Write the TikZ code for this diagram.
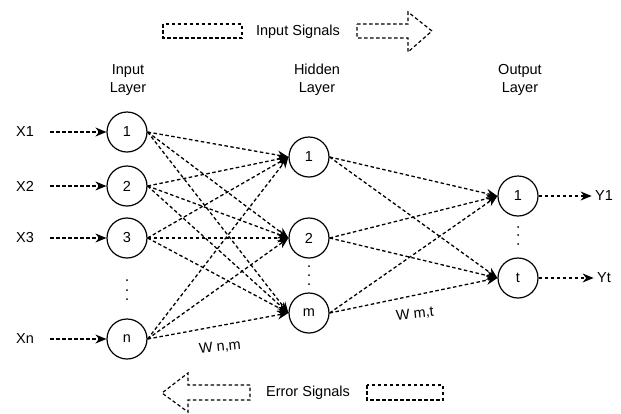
\documentclass[tikz,border=0pt]{standalone}
\usepackage{fontspec}
\setmainfont{Liberation Sans}
\usetikzlibrary{arrows.meta}
\begin{document}
\begin{tikzpicture}[x=1pt,y=-1pt,
  every node/.style={font=\fontsize{14.5}{18}\selectfont},
  neuron/.style={circle,draw,line width=1.2pt,minimum size=40pt,inner sep=0pt},
  conn/.style={dashed,line width=1.3pt,dash pattern=on 3.5pt off 2.5pt,-{Stealth[length=11pt,width=9pt]}},
  bigarrow/.style={dashed,line width=1.2pt,dash pattern=on 3.5pt off 2.5pt},
  dotmark/.style={fill=black},
  lbl/.style={align=center,inner sep=0pt}]
\useasboundingbox (0,0) rectangle (621,413);
% signals
\draw[bigarrow] (163,24) rectangle (242,38);
\node[inner sep=0pt] (insig) at (298,32) {Input Signals};
\draw[bigarrow] (357,24) -- (408,24) -- (408,12) -- (432,31) -- (408,52) -- (408,38) -- (357,38) -- cycle;
\draw[bigarrow] (250,385) -- (188,385) -- (188,373) -- (162,393) -- (188,412) -- (188,400) -- (250,400) -- cycle;
\node[inner sep=0pt] (errsig) at (308,393) {Error Signals};
\draw[bigarrow] (367,385) rectangle (443,400);
% layer labels
\node[lbl] (linput) at (128,80) {Input\\Layer};
\node[lbl] (lhidden) at (317,80) {Hidden\\Layer};
\node[lbl] (loutput) at (520,80) {Output\\Layer};
% neurons
\node[neuron] (i1) at (127,132) {1};
\node[neuron] (i2) at (127,186) {2};
\node[neuron] (i3) at (127,238) {3};
\node[neuron] (in) at (127,339) {n};
\node[neuron] (h1) at (309,157) {1};
\node[neuron] (h2) at (309,238) {2};
\node[neuron] (hm) at (309,313) {m};
\node[neuron] (o1) at (518,196) {1};
\node[neuron] (ot) at (518,278) {t};
% vertical dots
\foreach \y in {280,290,299} \fill[dotmark] (127,\y) circle (1pt);
\foreach \y in {266,275,284} \fill[dotmark] (309,\y) circle (1pt);
\foreach \y in {227,235,244} \fill[dotmark] (518,\y) circle (1pt);
% inputs/outputs
\node (x1) at (25,132) {X1};
\node (x2) at (25,186) {X2};
\node (x3) at (25,238) {X3};
\node (xn) at (25,339) {Xn};
\node (y1) at (604,196) {Y1};
\node (yt) at (604,278) {Yt};
\foreach \a/\b in {x1/i1,x2/i2,x3/i3,xn/in} \draw[conn] ([xshift=13pt]\a.east) -- (\b.west);
\draw[conn] (o1.east) -- (y1.west);
\draw[conn] (ot.east) -- (yt.west);
\foreach \a in {i1,i2,i3,in}
  \foreach \b in {h1,h2,hm}
    \draw[conn] (\a.east) -- (\b.west);
\foreach \a in {h1,h2,hm}
  \foreach \b in {o1,ot}
    \draw[conn] (\a.east) -- (\b.west);
% weights
\node[rotate=6] (wnm) at (220,347) {W n,m};
\node[rotate=6] (wmt) at (415,314) {W m,t};
\end{tikzpicture}
\end{document}
